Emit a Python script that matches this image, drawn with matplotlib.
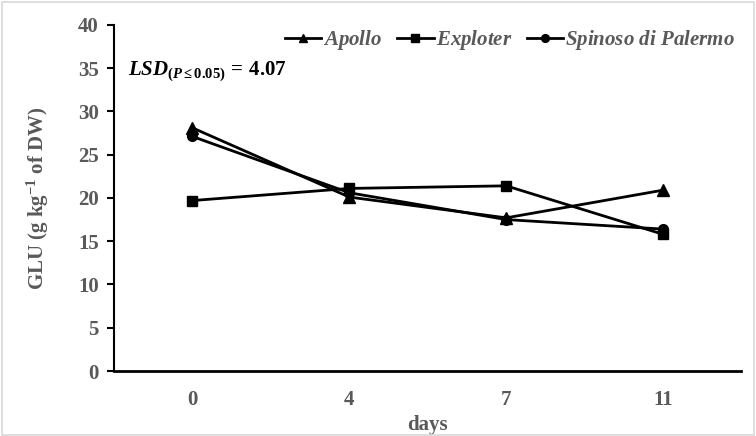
import matplotlib
matplotlib.use("Agg")
import matplotlib.pyplot as plt
from matplotlib.patches import Rectangle

days = ["0", "4", "7", "11"]
apollo = [28.1, 20.1, 17.7, 20.9]
exploter = [19.7, 21.1, 21.4, 15.8]
spinoso = [27.1, 20.6, 17.5, 16.4]
y_ticks = [0, 5, 10, 15, 20, 25, 30, 35, 40]
names = ["Apollo", "Exploter", "Spinoso di Palermo"]

plt.rcParams["font.family"] = ["Liberation Serif", "DejaVu Serif"]
plt.rcParams["mathtext.fontset"] = "custom"
plt.rcParams["mathtext.rm"] = "Liberation Serif:bold"
plt.rcParams["mathtext.it"] = "Liberation Serif:italic:bold"
plt.rcParams["mathtext.bf"] = "Liberation Serif:bold"
plt.rcParams["mathtext.default"] = "bf"
gray = "#595959"


def bold_italic(s):
    return r"$\mathit{" + s.replace(" ", r"\ ") + "}$"


fig = plt.figure(figsize=(7.56, 4.36), dpi=100)
fig.patches.append(Rectangle((0.003, 0.003), 0.994, 0.993, transform=fig.transFigure,
                             fill=False, edgecolor="#d9d9d9", linewidth=1.2))
ax = fig.add_axes([0.1508, 0.149, 0.830, 0.794])

x = range(len(days))
ax.plot(x, apollo, color="black", lw=2, marker="^", ms=8, label=bold_italic(names[0]))
ax.plot(x, exploter, color="black", lw=2, marker="s", ms=7, label=bold_italic(names[1]))
ax.plot(x, spinoso, color="black", lw=2, marker="o", ms=7, label=bold_italic(names[2]))

ax.set_xlim(-0.5, 3.5)
ax.set_ylim(0, 40)
ax.set_xticks(list(x))
ax.set_xticklabels(days)
ax.set_yticks(y_ticks)
ax.tick_params(axis="x", length=0, pad=14, labelsize=15, labelcolor=gray)
ax.tick_params(axis="y", direction="out", length=5, width=1.5, labelsize=15,
               labelcolor=gray, pad=6)
for lbl in ax.get_xticklabels() + ax.get_yticklabels():
    lbl.set_fontweight("bold")

for s in ["top", "right"]:
    ax.spines[s].set_visible(False)
ax.spines["left"].set_linewidth(1.5)
ax.spines["bottom"].set_linewidth(2)

ax.set_xlabel("days", fontsize=15, fontweight="bold", color=gray, labelpad=3)
ax.set_ylabel("GLU (g kg$^{-1}$ of DW)", fontsize=15, fontweight="bold",
              color=gray, labelpad=19)

ax.text(0.022, 0.855, r"$\mathit{LSD}_{\mathit{(P\leq0.05)}}\,{=}\,4.07$",
        transform=ax.transAxes, fontsize=15, va="baseline", color="black")

leg = ax.legend(loc="upper right", ncol=3, frameon=False, bbox_to_anchor=(1.02, 1.045),
                handlelength=1.75, columnspacing=0.7, handletextpad=0.1, markerscale=0.8,
                prop={"size": 15})
for t in leg.get_texts():
    t.set_color(gray)

fig.savefig("out.png", dpi=100)
